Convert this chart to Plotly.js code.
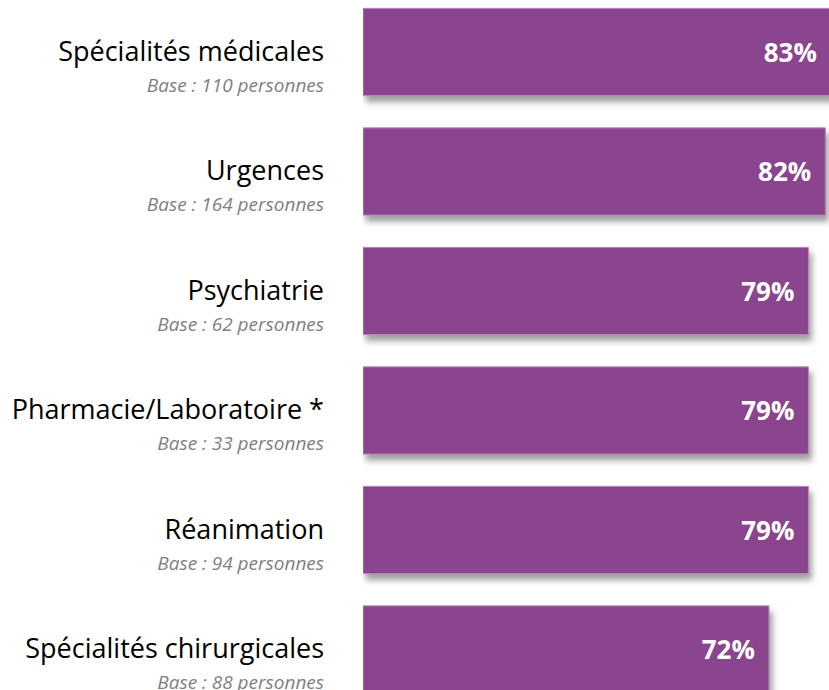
<!DOCTYPE html>
<html>
<head>
<meta charset="utf-8">
<script src="https://cdn.plot.ly/plotly-3.0.1.min.js"></script>
<style>
  html, body { margin: 0; padding: 0; background: #fff; }
  #chart { width: 829px; height: 690px; }
  .barlayer .point path { filter: drop-shadow(3px 6px 3px rgba(0,0,0,0.38)); }
</style>
</head>
<body>
<div id="chart"></div>
<script>
const categories = [
  "Spécialités médicales",
  "Urgences",
  "Psychiatrie",
  "Pharmacie/Laboratoire *",
  "Réanimation",
  "Spécialités chirurgicales"
];
const bases = [110, 164, 62, 33, 94, 88];
const values = [83, 82, 79, 79, 79, 72];

const tickText = categories.map((c, i) =>
  "<span style='font-size:27px'>" + c + "</span><br><i><span style='font-size:19px;color:#7f7f7f'>Base : " + bases[i] + " personnes</span></i>"
);

const trace = {
  type: "bar",
  orientation: "h",
  y: categories,
  x: values,
  marker: { color: "#8b448e", line: { color: "#b58ab7", width: 1 } },
  text: values.map(v => v + "%\u00A0\u2009"),
  textposition: "inside",
  insidetextanchor: "end",
  textfont: { family: "'Open Sans', sans-serif", size: 26, color: "#ffffff", weight: "bold" },
  hoverinfo: "none",
  cliponaxis: true
};

const layout = {
  width: 829,
  height: 690,
  margin: { l: 363, r: 0, t: 0, b: 0, pad: 0 },
  paper_bgcolor: "#ffffff",
  plot_bgcolor: "#ffffff",
  showlegend: false,
  bargap: 0.27,
  xaxis: {
    range: [0, 82.65],
    showgrid: false, zeroline: false, showticklabels: false, showline: false, ticks: ""
  },
  yaxis: {
    type: "category",
    range: [5.339, -0.435],
    tickmode: "array",
    tickvals: categories,
    ticktext: tickText,
    showgrid: false, zeroline: false, showline: false, ticks: "",
    ticklabelstandoff: 38,
    ticklabelshift: -16,
    tickfont: { family: "'Open Sans', sans-serif", size: 24, color: "#000000" }
  }
};

Plotly.newPlot("chart", [trace], layout, { displayModeBar: false, staticPlot: true });
</script>
</body>
</html>
